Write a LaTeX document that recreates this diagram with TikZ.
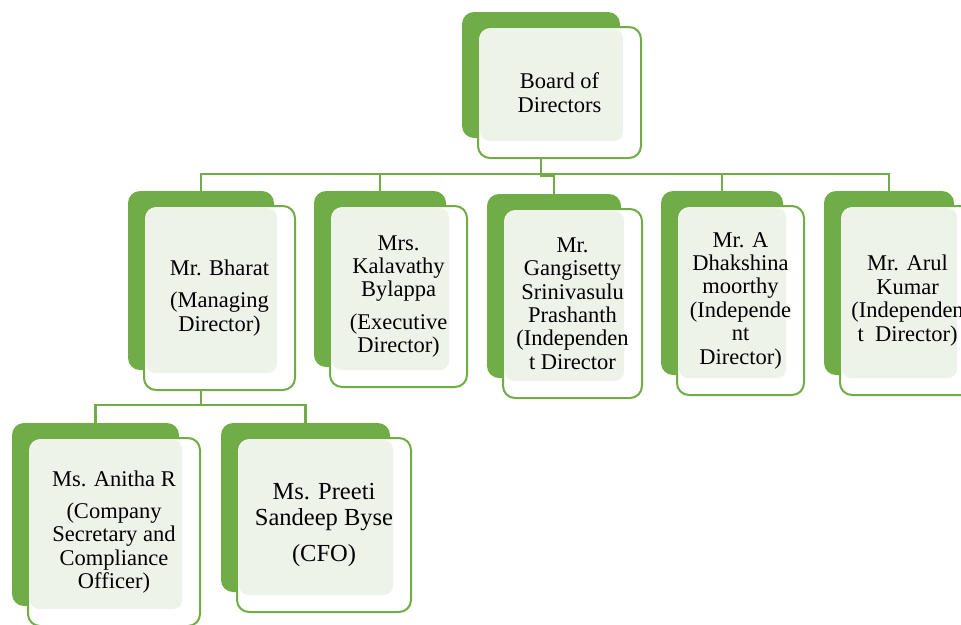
\documentclass[tikz,border=0pt]{standalone}
\usepackage{fontspec}
\setmainfont{Liberation Serif}
\newfontfamily\orgserif{Liberation Serif}
\definecolor{gmain}{HTML}{70AD47}
\definecolor{glight}{HTML}{EEF3EA}
\tikzset{
  conn/.style={draw=gmain, line width=2.2pt},
  backbox/.style={fill=gmain, rounded corners=12pt, inner sep=0pt},
  frontbox/.style={draw=gmain, line width=2pt, rounded corners=12pt, inner sep=0pt, align=center,
    font=\orgserif\fontsize{22.5}{23.4}\selectfont},
}
% #1 options, #2 name, #3 x1, #4 y1, #5 x2, #6 y2 (front box), #7 text
\newcommand\orgbox[7][]{%
  \node[backbox, minimum width={(#5-#3-5)*1pt}, minimum height={(#6-#4-5)*1pt}]
     (#2b) at ({(#3+#5)/2-18.5},{(#4+#6)/2-17.5}) {};
  \fill[white, rounded corners=12pt] (#3,#4) rectangle (#5,#6);
  \fill[glight, rounded corners=9pt] (#3+2,#4+2) rectangle (#5-18,#6-17);
  \node[frontbox, minimum width={(#5-#3)*1pt}, minimum height={(#6-#4)*1pt}, #1]
     (#2) at ({(#3+#5)/2},{(#4+#6)/2}) {#7};
}
\begin{document}
\begin{tikzpicture}[x=1pt,y=-1pt]
\useasboundingbox (0,0) rectangle (961,624);
\fill[white] (0,0) rectangle (961,624);
\clip (0,0) rectangle (961,624);
\coordinate (busy) at (0,174);
\coordinate (busa) at (0,176);
\coordinate (busz) at (0,405);
\orgbox{board}{478}{27}{641}{158}{Board of\\Directors}
\orgbox{bharat}{144}{206}{295}{390}{Mr. Bharat\\[9pt](Managing\\Director)}
\orgbox{kal}{330}{206}{467}{387}{Mrs.\\Kalavathy\\Bylappa\\[9pt](Executive\\Director)}
\orgbox{gang}{503}{209}{642}{398}{Mr.\\Gangisetty\\Srinivasulu\\Prashanth\\(Independen\\t Director}
\orgbox{dhak}{677}{206}{804}{395}{Mr. A\\Dhakshina\\moorthy\\(Independe\\nt\\Director)}
\orgbox{arul}{840}{206}{975}{395}{Mr. Arul\\Kumar\\(Independen\\t\ \ Director)}
\orgbox{anitha}{28}{438}{200}{626}{Ms. Anitha R\\[9pt](Company\\Secretary and\\Compliance\\Officer)}
\orgbox[font=\orgserif\fontsize{24.5}{25.5}\selectfont]{preeti}{237}{438}{411}{612}{Ms. Preeti\\Sandeep Byse\\[11pt](CFO)}
\draw[conn] (board.south -| boardb.south) -- (boardb.south |- busa) -| (gangb.north);
\draw[conn] (bharatb.north) -- (bharatb.north |- busy) -- (arulb.north |- busy) -- (arulb.north);
\draw[conn] (kalb.north |- busy) -- (kalb.north);
\draw[conn] (dhakb.north |- busy) -- (dhakb.north);
\draw[conn] (bharat.south -| bharatb.south) -- (bharatb.south |- busz);
\draw[conn] (anithab.north) |- (preetib.north |- busz) -- (preetib.north);
\end{tikzpicture}
\end{document}
